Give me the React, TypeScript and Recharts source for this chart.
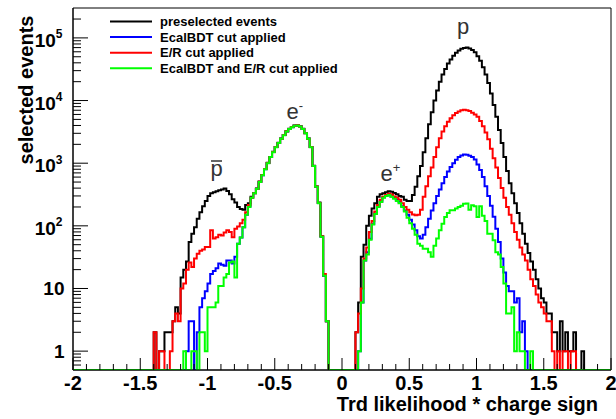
import React from 'react';
import { ComposedChart, Line, XAxis, YAxis, ReferenceArea } from 'recharts';

// Histogram binning (Trd likelihood * charge sign)
const X_MIN = -2;
const X_MAX = 2;
const BIN_WIDTH = 0.02;
const N_BINS = 200;

// negative side arrays start at the -1.40 bin, positive side at the 0.10 bin
const NEG_START = -1.4;
const POS_START = 0.1;

// bins -1.40 .. -0.12
const preselectedNeg = [
  2, 0, 1, 1, 2, 2, 2, 3, 5, 4,
  15, 20, 27, 55, 75, 95, 130, 165, 205, 250,
  300, 330, 345, 355, 370, 380, 395, 360, 320, 265,
  235, 200, 185, 180, 215, 230,
  290, 335, 395, 510, 650, 810, 1020, 1260, 1520, 1820,
  2120, 2480, 2830, 3230, 3540, 3790, 3990, 4050, 3900, 3540,
  3030, 2480, 1820, 910, 425, 235, 68, 16, 3,
];
const ecalNeg = [
  0, 0, 0, 0, 0, 0, 0, 0, 0, 0,
  0, 0, 1, 3, 3, 0, 2, 5, 7, 9,
  12, 17, 19, 21, 25, 24, 23, 28, 28, 25,
  32, 52, 65, 95, 150, 205,
  281, 331, 391, 502, 642, 802, 1005, 1252, 1505, 1805,
  2105, 2455, 2810, 3210, 3510, 3760, 3960, 4010, 3855, 3505,
  3005, 2455, 1805, 902, 422, 231, 67, 16, 3,
];
const erNeg = [
  2, 0, 1, 1, 0, 0, 1, 3, 4, 3,
  10, 12, 20, 26, 22, 30, 36, 40, 42, 46,
  46, 85, 63, 66, 72, 70, 78, 85, 80, 66,
  90, 98, 110, 125, 165, 215,
  282, 332, 392, 505, 645, 805, 1010, 1255, 1510, 1810,
  2110, 2460, 2820, 3220, 3520, 3770, 3970, 4030, 3860, 3510,
  3010, 2460, 1810, 905, 425, 232, 68, 17, 3,
];
const bothNeg = [
  0, 0, 0, 0, 0, 0, 0, 0, 0, 0,
  0, 1, 0, 0, 1, 1, 0, 2, 2, 1,
  5, 5, 5, 6, 11, 11, 15, 17, 26, 27,
  15, 52, 65, 95, 150, 200,
  280, 330, 390, 500, 640, 800, 1000, 1250, 1500, 1800,
  2100, 2450, 2800, 3200, 3500, 3750, 3950, 4000, 3850, 3500,
  3000, 2450, 1800, 900, 420, 230, 67, 16, 3,
];

// bins 0.10 .. 1.78
const preselectedPos = [
  2, 6, 32, 50, 100, 145, 190, 230, 290, 320,
  330, 345, 355, 350, 335, 320, 300, 290, 262, 250,
  250, 310, 420, 620, 900, 1500, 2500, 4200, 6500, 10000,
  14500, 20000, 26000, 32000, 39000, 45000, 52000, 58000, 63000, 67000,
  69000, 70000, 68000, 64000, 59000, 51000, 43000, 34000, 26000, 19000,
  13000, 8500, 5500, 3400, 2100, 1250, 750, 480, 330, 230,
  160, 110, 75, 52, 37, 27, 20, 14, 10, 7,
  6, 4, 4, 2, 2, 1, 3, 1, 2, 1,
  1, 2, 0, 0, 1,
];
const ecalPos = [
  0, 1, 6, 28, 38, 62, 108, 158, 205, 245,
  285, 305, 315, 295, 280, 262, 242, 205, 175, 150,
  125, 105, 85, 68, 63, 72, 95, 130, 175, 230,
  300, 380, 480, 600, 740, 870, 1000, 1130, 1250, 1330,
  1380, 1370, 1320, 1250, 1150, 950, 780, 600, 430, 300,
  210, 140, 90, 55, 30, 18, 11, 9, 9, 6,
  7, 2, 3, 1, 0, 0, 0, 0, 0, 0,
  0, 0, 0, 0, 0, 0, 0, 0, 0, 0,
  0, 0, 0, 0, 0,
];
const erPos = [
  2, 4, 10, 30, 45, 80, 120, 170, 215, 260,
  290, 310, 325, 315, 295, 280, 260, 230, 200, 180,
  165, 152, 147, 150, 180, 290, 430, 620, 850, 1250,
  1800, 2500, 3200, 3900, 4600, 5200, 5800, 6300, 6700, 7000,
  7100, 7000, 6800, 6400, 6000, 5500, 4700, 3900, 3100, 2400,
  1700, 1200, 850, 580, 400, 280, 200, 150, 110, 80,
  60, 45, 35, 28, 20, 14, 11, 8, 6, 5,
  4, 3, 3, 1, 0, 1, 0, 1, 1, 0,
  1, 1, 0, 0, 0,
];
const bothPos = [
  0, 1, 6, 28, 35, 60, 105, 155, 200, 240,
  280, 300, 310, 290, 270, 250, 230, 200, 170, 135,
  110, 90, 72, 52, 48, 43, 43, 38, 32, 48,
  63, 85, 108, 138, 160, 177, 177, 190, 200, 210,
  225, 228, 180, 213, 205, 138, 205, 145, 120, 75,
  75, 59, 38, 35, 22, 12, 4, 4, 5, 1,
  2, 1, 1, 0, 0, 1, 0, 0, 0, 0,
  0, 0, 0, 0, 0, 0, 0, 0, 0, 0,
  0, 0, 0, 0, 0,
];

const SERIES = [
  { key: 'pre', name: 'preselected events', color: '#000000', neg: preselectedNeg, pos: preselectedPos },
  { key: 'ecal', name: 'EcalBDT cut applied', color: '#0000ff', neg: ecalNeg, pos: ecalPos },
  { key: 'er', name: 'E/R cut applied', color: '#ff0000', neg: erNeg, pos: erPos },
  { key: 'both', name: 'EcalBDT and E/R cut applied', color: '#00ff00', neg: bothNeg, pos: bothPos },
];

const X_TICKS = [-2, -1.5, -1, -0.5, 0, 0.5, 1, 1.5, 2];
const X_MINOR_TICKS = [
  -1.9, -1.8, -1.7, -1.6, -1.4, -1.3, -1.2, -1.1, -0.9, -0.8, -0.7, -0.6,
  -0.4, -0.3, -0.2, -0.1, 0.1, 0.2, 0.3, 0.4, 0.6, 0.7, 0.8, 0.9,
  1.1, 1.2, 1.3, 1.4, 1.6, 1.7, 1.8, 1.9,
];
const Y_TICKS = [1, 10, 100, 1000, 10000, 100000];
const Y_MINOR_TICKS = [
  0.6, 0.7, 0.8, 0.9,
  2, 3, 4, 5, 6, 7, 8, 9,
  20, 30, 40, 50, 60, 70, 80, 90,
  200, 300, 400, 500, 600, 700, 800, 900,
  2000, 3000, 4000, 5000, 6000, 7000, 8000, 9000,
  20000, 30000, 40000, 50000, 60000, 70000, 80000, 90000,
  200000,
];
const Y_MIN = 0.5;
const Y_MAX = 3e5;

const FONT = '"Liberation Sans", Arial, Helvetica, sans-serif';
const WIDTH = 616;
const HEIGHT = 419;
const MARGIN = { top: 8, right: 5, bottom: 49, left: 73 };
const PLOT_LEFT = MARGIN.left;
const PLOT_BOTTOM = HEIGHT - MARGIN.bottom;

// empty bins sit on the bottom of the frame, like ROOT does on a log axis
const binValue = (arr: number[], start: number, bin: number) => {
  const offset = Math.round((start - X_MIN) / BIN_WIDTH);
  const v = arr[bin - offset];
  return v && v > 0 ? v : Y_MIN;
};

const data: Record<string, number>[] = [];
for (let i = 0; i <= N_BINS; i++) {
  const bin = Math.min(i, N_BINS - 1);
  const row: Record<string, number> = { x: Math.round((X_MIN + i * BIN_WIDTH) * 100) / 100 };
  SERIES.forEach((s) => {
    const negV = binValue(s.neg, NEG_START, bin);
    const posV = binValue(s.pos, POS_START, bin);
    row[s.key] = Math.max(negV, posV);
  });
  data.push(row);
}

const allXTicks = [...X_TICKS, ...X_MINOR_TICKS].sort((a, b) => a - b);
const allYTicks = [...Y_TICKS, ...Y_MINOR_TICKS].sort((a, b) => a - b);

// ticks point into the frame (ROOT style), long ones carry the label
const XTick = ({ x, payload }: any) => {
  const major = X_TICKS.includes(payload.value);
  return (
    <g>
      <line x1={x} x2={x} y1={PLOT_BOTTOM} y2={PLOT_BOTTOM - (major ? 12 : 6)} stroke="#000" strokeWidth={1} />
      {major && (
        <text x={x} y={390} textAnchor="middle" fontFamily={FONT} fontWeight="bold" fontSize={20} fill="#000">
          {String(payload.value)}
        </text>
      )}
    </g>
  );
};

const YTick = ({ y, payload }: any) => {
  const v = payload.value as number;
  const major = Y_TICKS.includes(v);
  const exp = Math.round(Math.log10(v));
  let label = null;
  if (major && exp < 2) {
    label = (
      <text x={64.5} y={y + 7} textAnchor="end" fontFamily={FONT} fontWeight="bold" fontSize={19} fill="#000">
        {String(v)}
      </text>
    );
  } else if (major) {
    label = (
      <text x={62.5} y={y + 9} textAnchor="end" fontFamily={FONT} fontWeight="bold" fontSize={19} fill="#000">
        10
        <tspan dy={-8.5} fontSize={12}>{exp}</tspan>
      </text>
    );
  }
  return (
    <g>
      <line x1={PLOT_LEFT} x2={PLOT_LEFT + (major ? 15 : 8)} y1={y} y2={y} stroke="#000" strokeWidth={1} />
      {label}
    </g>
  );
};

function Overlay() {
  const rowY = (i: number) => 21.5 + i * 15.6;
  return (
    <svg
      width={WIDTH}
      height={HEIGHT}
      style={{ position: 'absolute', left: 0, top: 0, pointerEvents: 'none' }}
      fontFamily={FONT}
    >
      {/* legend */}
      {SERIES.map((s, i) => (
        <g key={s.key}>
          <line x1={110} x2={152} y1={rowY(i)} y2={rowY(i)} stroke={s.color} strokeWidth={2} />
          <text x={160} y={rowY(i) + 4.5} fontSize={13} fontWeight="bold" fill="#000">
            {s.name}
          </text>
        </g>
      ))}

      {/* axis titles */}
      <text x={598} y={411} textAnchor="end" fontSize={20} fontWeight="bold" fill="#000">
        Trd likelihood * charge sign
      </text>
      <text transform="translate(33, 90) rotate(-90)" textAnchor="middle" fontSize={20} fontWeight="bold" fill="#000">
        selected events
      </text>

      {/* peak labels */}
      <text x={210.5} y={176} fontSize={22} fill="#333">p</text>
      <line x1={211} x2={222} y1={161} y2={161} stroke="#333" strokeWidth={1.5} />
      <text x={286.5} y={118.5} fontSize={22} fill="#333">
        e<tspan dy={-9} fontSize={13}>-</tspan>
      </text>
      <text x={380.5} y={181} fontSize={22} fill="#333">
        e<tspan dy={-9} fontSize={13}>+</tspan>
      </text>
      <text x={457} y={34} fontSize={22} fill="#333">p</text>
    </svg>
  );
}

export default function App() {
  return (
    <div style={{ position: 'absolute', left: 0, top: 0, width: WIDTH, height: HEIGHT, background: '#fff' }}>
      <ComposedChart width={WIDTH} height={HEIGHT} data={data} margin={MARGIN}>
        <XAxis
          xAxisId="x"
          dataKey="x"
          type="number"
          domain={[X_MIN, X_MAX]}
          ticks={allXTicks}
          interval={0}
          allowDataOverflow
          mirror
          tickLine={false}
          stroke="#000"
          tick={<XTick />}
        />
        <YAxis
          yAxisId="y"
          type="number"
          scale="log"
          domain={[Y_MIN, Y_MAX]}
          ticks={allYTicks}
          interval={0}
          allowDataOverflow
          mirror
          tickLine={false}
          stroke="#000"
          tick={<YTick />}
        />
        <ReferenceArea
          xAxisId="x"
          yAxisId="y"
          x1={X_MIN}
          x2={X_MAX}
          y1={Y_MIN}
          y2={Y_MAX}
          fill="none"
          stroke="#000"
          strokeWidth={1}
          ifOverflow="visible"
        />
        {SERIES.map((s) => (
          <Line
            key={s.key}
            xAxisId="x"
            yAxisId="y"
            dataKey={s.key}
            name={s.name}
            type="stepAfter"
            stroke={s.color}
            strokeWidth={2}
            dot={false}
            activeDot={false}
            isAnimationActive={false}
          />
        ))}
      </ComposedChart>
      <Overlay />
    </div>
  );
}
